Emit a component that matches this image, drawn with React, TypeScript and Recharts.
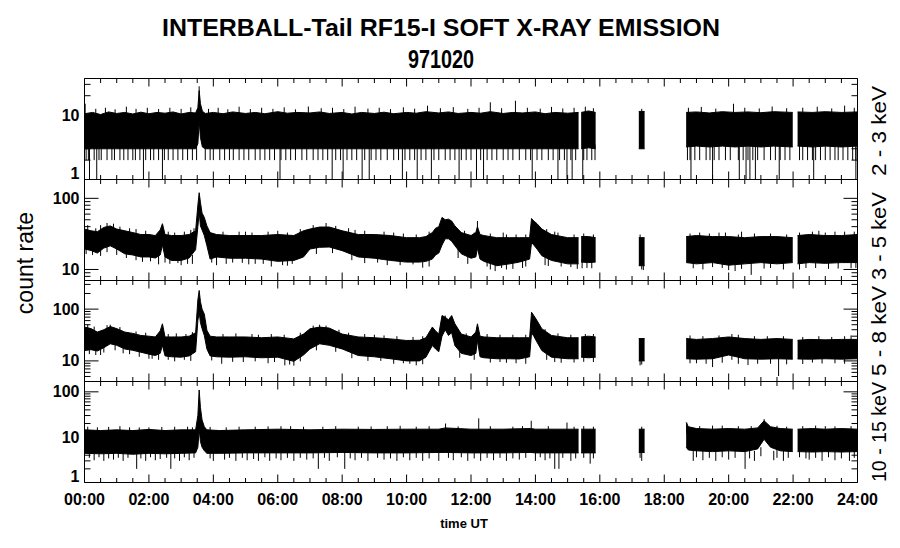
import React from 'react';
import { ComposedChart, Area, Line, XAxis, YAxis } from 'recharts';

const FONT = '"Liberation Sans", Arial, Helvetica, sans-serif';

// ---------- text ----------
const TITLE = 'INTERBALL-Tail RF15-I SOFT X-RAY EMISSION';
const DATE_LABEL = '971020';
const Y_TITLE = 'count rate';
const X_TITLE = 'time UT';
const CHANNELS = ['2 - 3 keV', '3 - 5 keV', '5 - 8 keV', '10 - 15 keV'];

// ---------- x axis ----------
const X_MAJOR_HOURS = [0, 2, 4, 6, 8, 10, 12, 14, 16, 18, 20, 22, 24];
const X_MAJOR_LABELS = ['00:00', '02:00', '04:00', '06:00', '08:00', '10:00', '12:00', '14:00', '16:00', '18:00', '20:00', '22:00', '24:00'];
const X_MINOR_HOURS = [0.5, 1, 1.5, 2.5, 3, 3.5, 4.5, 5, 5.5, 6.5, 7, 7.5, 8.5, 9, 9.5, 10.5, 11, 11.5, 12.5, 13, 13.5, 14.5, 15, 15.5, 16.5, 17, 17.5, 18.5, 19, 19.5, 20.5, 21, 21.5, 22.5, 23, 23.5];

// ---------- y axes (log) ----------
const P1_DOMAIN = [1, 37];
const P2_DOMAIN = [7, 184];
const P3_DOMAIN = [4, 357];
const P4_DOMAIN = [1, 169];
const P1_TICKS = [1, 2, 3, 4, 5, 6, 7, 8, 9, 10, 20, 30];
const P2_TICKS = [8, 9, 10, 20, 30, 40, 50, 60, 70, 80, 90, 100];
const P3_TICKS = [5, 6, 7, 8, 9, 10, 20, 30, 40, 50, 60, 70, 80, 90, 100, 200, 300];
const P4_TICKS = [1, 2, 3, 4, 5, 6, 7, 8, 9, 10, 20, 30, 40, 50, 60, 70, 80, 90, 100];

type Band = [number, number | null, number | null];
type Spike = [number, number, number];

// ---------- envelopes [hour, low, high] ----------
const P1_BAND: Band[] = [
  [0, 3, 10.5], [0.25, 3, 11], [0.5, 3, 10.2], [0.75, 3, 11.2], [1.0, 3, 10.6], [1.25, 3, 11], [1.5, 3, 10.4],
  [1.75, 3, 11.1], [2.0, 3, 10.5], [2.25, 3, 11], [2.5, 3, 10.7], [2.75, 3, 11.2], [3.0, 3, 10.4], [3.25, 3, 11],
  [3.45, 3, 10.8], [3.52, 3.6, 13], [3.56, 8, 24], [3.6, 4.5, 15], [3.66, 3.2, 11.5], [3.75, 3, 10.6], [4.0, 3, 11],
  [4.3, 3, 10.5], [4.6, 3, 11.2], [5.0, 3, 10.6], [5.3, 3, 11], [5.6, 3, 10.5], [6.0, 3, 11.3], [6.3, 3, 10.7],
  [6.6, 3, 11], [7.0, 3, 10.8], [7.3, 3, 11.2], [7.6, 3, 10.6], [8.0, 3, 11], [8.3, 3, 10.4], [8.6, 3, 11],
  [9.0, 3, 10.6], [9.3, 3, 11.1], [9.6, 3, 10.5], [10.0, 3, 11], [10.3, 3, 10.7], [10.6, 3, 11.3], [11.0, 3, 10.8],
  [11.3, 3, 11.2], [11.6, 3, 10.6], [12.0, 3, 11], [12.3, 3, 10.7], [12.6, 3, 11.3], [13.0, 3, 10.6], [13.3, 3, 11],
  [13.6, 3, 10.8], [14.0, 3, 11.2], [14.3, 3, 10.5], [14.6, 3, 11], [15.0, 3, 10.7], [15.34, 3, 11],
  [15.38, null, null],
  [15.42, 3, 11], [15.65, 3.1, 11.6], [15.87, 3, 11],
  [16.5, null, null],
  [17.21, 3, 11.4], [17.39, 3, 11.4],
  [18.0, null, null],
  [18.68, 3.2, 11], [19.0, 3.3, 11.2], [19.4, 3.2, 10.8], [19.8, 3.3, 11.3], [20.2, 3.2, 11], [20.6, 3.3, 11.2],
  [21.0, 3.2, 10.9], [21.4, 3.3, 11.3], [21.99, 3.2, 11],
  [22.06, null, null],
  [22.14, 3.3, 11.2], [22.6, 3.2, 11], [23.0, 3.3, 11.3], [23.5, 3.2, 11], [24.0, 3.3, 11.2],
];

const P2_BAND: Band[] = [
  [0, 19.4, 37], [0.2, 18.5, 35], [0.4, 17, 34], [0.6, 20, 39], [0.8, 21.5, 41], [1.0, 19.4, 37], [1.25, 16.6, 35],
  [1.5, 16, 33], [1.75, 15, 31], [2.0, 15, 31], [2.2, 14.5, 30], [2.35, 16, 36], [2.42, 22, 44], [2.5, 15, 31],
  [2.7, 13.4, 30], [3.0, 13.4, 30], [3.25, 14.5, 31], [3.45, 19, 35], [3.52, 40, 80], [3.56, 64, 120], [3.6, 41, 88],
  [3.65, 36, 62], [3.72, 30, 54], [3.8, 21.6, 41], [3.9, 14, 33], [4.1, 15, 31], [4.5, 14.4, 30], [5.0, 14.4, 30],
  [5.5, 14, 30], [6.0, 13, 31], [6.5, 13.4, 30], [6.8, 15, 35], [7.0, 19.4, 37], [7.3, 20.5, 39.5], [7.6, 20.7, 39.5],
  [8.0, 18.4, 35], [8.5, 15, 31], [9.0, 14.4, 31], [9.5, 13.4, 30], [10.0, 12.7, 28], [10.4, 12.7, 28], [10.6, 13, 29],
  [10.8, 14, 33], [10.9, 16, 38], [11.0, 17, 40], [11.1, 22, 54], [11.2, 27, 50], [11.3, 27, 51], [11.4, 25, 48],
  [11.5, 21.6, 41], [11.7, 16.6, 33], [12.0, 14.4, 30], [12.15, 15, 33], [12.2, 20, 40], [12.28, 14, 31], [12.4, 13, 30],
  [12.8, 11.3, 28], [13.2, 12, 28], [13.5, 12.7, 28], [13.82, 14, 28], [13.88, 24, 52], [13.95, 22, 48], [14.05, 19.4, 44],
  [14.2, 15.6, 37], [14.5, 13.4, 31], [15.0, 12, 28], [15.34, 12, 28],
  [15.38, null, null],
  [15.42, 12.7, 29], [15.65, 12.5, 29], [15.87, 12.7, 28],
  [16.5, null, null],
  [17.21, 11.3, 28], [17.39, 11.3, 28],
  [18.0, null, null],
  [18.68, 12.5, 29], [19.0, 12, 30], [19.5, 12.5, 29], [20.0, 11.5, 29], [20.5, 12, 28], [21.0, 12.5, 29],
  [21.5, 12, 29], [21.99, 12.5, 28],
  [22.06, null, null],
  [22.14, 12, 30], [22.5, 12.5, 31], [23.0, 12.2, 30], [23.5, 12.5, 30], [24.0, 12.5, 31],
];

const P3_BAND: Band[] = [
  [0, 15.8, 45], [0.2, 16.5, 42], [0.4, 15.5, 36], [0.6, 18, 40], [0.8, 21.4, 46], [1.0, 20, 42], [1.25, 17, 36],
  [1.5, 16, 34], [1.75, 14.7, 31], [2.0, 13.5, 30], [2.2, 12.7, 29], [2.35, 14, 38], [2.42, 20, 52], [2.5, 12.5, 29],
  [2.7, 12, 29], [3.0, 11.8, 29], [3.25, 12.5, 30], [3.45, 15, 35], [3.52, 60, 150], [3.56, 87, 229], [3.6, 55, 140],
  [3.65, 42, 100], [3.72, 31, 80], [3.8, 17, 39], [3.9, 12.5, 30], [4.1, 12, 29], [4.5, 11.8, 29], [5.0, 12, 29],
  [5.5, 11.5, 28], [6.0, 11.8, 29], [6.5, 9.8, 26.6], [6.8, 13, 33], [7.0, 17, 41.6], [7.3, 21.4, 45], [7.6, 20, 43],
  [8.0, 17, 33], [8.5, 12.7, 29], [9.0, 12, 28], [9.5, 11, 26.6], [10.0, 10, 24.8], [10.4, 10, 25], [10.6, 11.8, 28],
  [10.8, 19.8, 45], [10.9, 17, 38], [11.0, 15, 33], [11.1, 30, 75], [11.2, 40, 70], [11.3, 31, 62], [11.4, 35, 75],
  [11.5, 19.8, 52], [11.7, 14, 33], [12.0, 12.7, 29], [12.15, 14, 36], [12.2, 25, 52], [12.28, 12, 30], [12.4, 11.5, 29],
  [12.8, 11, 28], [13.2, 11, 28], [13.5, 10.9, 28], [13.82, 12, 28], [13.88, 35, 87], [13.95, 30, 75], [14.05, 23, 60],
  [14.2, 15.8, 41.6], [14.5, 11.8, 31], [15.0, 11, 28], [15.34, 11, 28],
  [15.38, null, null],
  [15.42, 11.8, 29], [15.65, 11.5, 30], [15.87, 11.8, 29],
  [16.5, null, null],
  [17.21, 10, 27], [17.39, 10, 27],
  [18.0, null, null],
  [18.68, 11, 27], [19.0, 10.8, 26], [19.5, 11, 27], [20.0, 13, 29], [20.5, 11, 27], [21.0, 10.8, 26],
  [21.5, 11, 27], [21.99, 10.8, 26],
  [22.06, null, null],
  [22.14, 10.9, 25], [22.5, 10.8, 26], [23.0, 11, 25.5], [23.5, 10.8, 26], [24.0, 11, 26],
];

const P4_BAND: Band[] = [
  [0, 4.4, 14.5], [0.5, 4.3, 14], [1.0, 4.4, 14.5], [1.5, 4.2, 14], [2.0, 4.4, 14.8], [2.5, 4.3, 14], [3.0, 4.4, 14.5],
  [3.45, 4.5, 14.5], [3.52, 6, 30], [3.56, 15, 110], [3.6, 8, 45], [3.65, 6, 24], [3.72, 5, 17], [3.8, 4.4, 14.5],
  [4.2, 4.4, 14], [5.0, 4.5, 14.5], [6.0, 4.5, 15], [7.0, 4.5, 14.5], [8.0, 4.6, 15], [9.0, 4.5, 14.8], [10.0, 4.5, 15],
  [11.0, 4.6, 15], [11.2, 4.6, 16], [12.0, 4.5, 15], [13.0, 4.5, 15], [13.85, 4.6, 15.5], [14.0, 4.5, 15],
  [15.0, 4.5, 15], [15.34, 4.5, 15],
  [15.38, null, null],
  [15.42, 4.5, 15], [15.87, 4.5, 15],
  [16.5, null, null],
  [17.21, 4.6, 15], [17.39, 4.6, 15],
  [18.0, null, null],
  [18.68, 6, 21], [18.75, 5.2, 17], [19.0, 5, 15.5], [19.5, 4.8, 15], [20.0, 5, 15.5], [20.5, 4.8, 15], [20.9, 5.5, 16],
  [21.1, 9, 23], [21.3, 6, 17], [21.6, 5, 15.5], [21.99, 4.8, 15],
  [22.06, null, null],
  [22.14, 4.8, 15], [22.6, 4.7, 15.5], [23.0, 4.8, 15], [23.5, 4.7, 15.5], [24.0, 4.8, 15],
];

// ---------- individual excursions [hour, from, to] ----------
const P1_SPIKES: Spike[] = [
  // dips to 2
  [0.05, 3.5, 2], [0.12, 3.5, 2], [0.3, 3.5, 2], [0.45, 3.5, 2], [0.52, 3.5, 2], [0.7, 3.5, 2], [0.85, 3.5, 2], [0.93, 3.5, 2],
  [1.1, 3.5, 2], [1.22, 3.5, 2], [1.35, 3.5, 2], [1.5, 3.5, 2], [1.58, 3.5, 2], [1.72, 3.5, 2], [1.9, 3.5, 2], [2.05, 3.5, 2],
  [2.15, 3.5, 2], [2.3, 3.5, 2], [2.48, 3.5, 2], [2.6, 3.5, 2], [2.75, 3.5, 2], [2.9, 3.5, 2], [3.05, 3.5, 2], [3.2, 3.5, 2],
  [3.35, 3.5, 2], [3.48, 3.5, 2], [3.75, 3.5, 2], [3.9, 3.5, 2], [4.0, 3.5, 2], [4.2, 3.5, 2], [4.35, 3.5, 2], [4.5, 3.5, 2],
  [4.62, 3.5, 2], [4.8, 3.5, 2], [4.95, 3.5, 2], [5.1, 3.5, 2], [5.3, 3.5, 2], [5.45, 3.5, 2], [5.6, 3.5, 2], [5.75, 3.5, 2],
  [5.9, 3.5, 2], [6.1, 3.5, 2], [6.25, 3.5, 2], [6.4, 3.5, 2], [6.55, 3.5, 2], [6.75, 3.5, 2], [6.9, 3.5, 2], [7.1, 3.5, 2],
  [7.25, 3.5, 2], [7.4, 3.5, 2], [7.55, 3.5, 2], [7.8, 3.5, 2], [7.95, 3.5, 2], [8.15, 3.5, 2], [8.3, 3.5, 2], [8.45, 3.5, 2],
  [8.7, 3.5, 2], [8.9, 3.5, 2], [9.05, 3.5, 2], [9.2, 3.5, 2], [9.4, 3.5, 2], [9.6, 3.5, 2], [9.75, 3.5, 2], [9.95, 3.5, 2],
  [10.1, 3.5, 2], [10.25, 3.5, 2], [10.45, 3.5, 2], [10.6, 3.5, 2], [10.85, 3.5, 2], [11.0, 3.5, 2], [11.2, 3.5, 2],
  [11.35, 3.5, 2], [11.5, 3.5, 2], [11.7, 3.5, 2], [11.85, 3.5, 2], [12.0, 3.5, 2], [12.3, 3.5, 2], [12.5, 3.5, 2],
  [12.65, 3.5, 2], [12.8, 3.5, 2], [13.0, 3.5, 2], [13.15, 3.5, 2], [13.3, 3.5, 2], [13.5, 3.5, 2], [13.7, 3.5, 2],
  [13.85, 3.5, 2], [14.05, 3.5, 2], [14.2, 3.5, 2], [14.4, 3.5, 2], [14.55, 3.5, 2], [14.75, 3.5, 2], [14.9, 3.5, 2],
  [15.1, 3.5, 2], [15.25, 3.5, 2], [15.5, 3.5, 2], [15.6, 3.5, 2], [15.75, 3.5, 2], [15.85, 3.5, 2],
  [18.72, 3.5, 2], [18.8, 3.5, 2], [18.95, 3.5, 2], [19.1, 3.5, 2], [19.3, 3.5, 2], [19.42, 3.5, 2], [19.55, 3.5, 2],
  [19.7, 3.5, 2], [19.9, 3.5, 2], [20.05, 3.5, 2], [20.3, 3.5, 2], [20.45, 3.5, 2], [20.6, 3.5, 2], [20.75, 3.5, 2],
  [20.9, 3.5, 2], [21.1, 3.5, 2], [21.3, 3.5, 2], [21.45, 3.5, 2], [21.6, 3.5, 2], [21.75, 3.5, 2], [21.9, 3.5, 2],
  [22.2, 3.5, 2], [22.3, 3.5, 2], [22.45, 3.5, 2], [22.6, 3.5, 2], [22.7, 3.5, 2], [22.85, 3.5, 2], [23.0, 3.5, 2],
  [23.15, 3.5, 2], [23.3, 3.5, 2], [23.4, 3.5, 2], [23.55, 3.5, 2], [23.7, 3.5, 2], [23.85, 3.5, 2], [23.95, 3.5, 2],
  // dips to 1
  [0.155, 3.5, 1], [0.38, 3.5, 1], [1.83, 3.5, 1], [2.42, 3.5, 1], [6.07, 3.5, 1], [7.69, 3.5, 1], [8.03, 3.5, 1],
  [8.62, 3.5, 1], [8.84, 3.5, 1], [9.87, 3.5, 1], [10.33, 3.5, 1], [10.77, 3.5, 1], [11.63, 3.5, 1], [12.17, 3.5, 1],
  [12.39, 3.5, 1], [13.9, 3.5, 1], [14.7, 3.5, 1], [14.98, 3.5, 1], [15.14, 3.5, 1], [15.47, 3.5, 1], [18.83, 3.5, 1],
  [19.5, 3.5, 1], [20.33, 3.5, 1], [20.54, 3.5, 1], [20.66, 3.5, 1], [20.83, 3.5, 1], [21.57, 3.5, 1], [22.64, 3.5, 1],
  [23.95, 3.5, 1],
  // upward
  [0.02, 9, 15], [0.35, 9, 12.5], [0.65, 9, 13], [0.95, 9, 12.3], [1.3, 9, 13.5], [1.6, 9, 12.5], [1.95, 9, 13],
  [2.3, 9, 12.4], [2.65, 9, 13], [3.0, 9, 12.5], [3.3, 9, 13.2], [3.56, 12, 28], [3.85, 9, 12.5], [4.15, 9, 13],
  [4.45, 9, 12.3], [4.8, 9, 13.5], [5.15, 9, 12.4], [5.5, 9, 13], [5.85, 9, 12.5], [6.2, 9, 13.2], [6.55, 9, 12.3],
  [6.95, 9, 13.6], [7.35, 9, 12.8], [7.7, 9, 13], [8.05, 9, 12.4], [8.4, 9, 13.5], [8.8, 9, 12.6], [9.15, 9, 13],
  [9.5, 9, 12.4], [9.9, 9, 13.2], [10.25, 9, 12.6], [10.65, 9, 14], [11.05, 9, 12.8], [11.45, 9, 13.3], [11.9, 9, 12.5],
  [12.25, 9, 13], [12.6, 9, 15.8], [12.95, 9, 12.8], [13.38, 9, 16.7], [13.75, 9, 13], [14.15, 9, 12.6], [14.5, 9, 13.4],
  [14.85, 9, 12.7], [15.2, 9, 13], [15.55, 9, 13.5], [15.8, 9, 12.8], [17.3, 9, 12.5], [18.75, 9, 13], [19.15, 9, 13.4],
  [19.6, 9, 12.6], [20.15, 9, 15], [20.5, 9, 13], [20.95, 9, 12.7], [21.35, 9, 13.6], [21.8, 9, 12.8], [22.3, 9, 13],
  [22.75, 9, 13.5], [23.2, 9, 12.7], [23.6, 9, 14], [23.9, 9, 13],
];

const P2_SPIKES: Spike[] = [
  [0.25, 20, 16], [0.5, 19, 15.5], [1.3, 18, 14.5], [2.05, 16, 13], [2.3, 16, 11.8], [2.65, 15, 12], [2.9, 15, 12.3],
  [3.2, 15, 12], [4.1, 16, 11.5], [4.6, 15, 12.5], [5.3, 15, 12], [5.8, 15, 11], [6.15, 14, 11.5], [6.45, 14, 12],
  [9.1, 15, 12.5], [9.8, 14, 11.5], [10.2, 14, 11.8], [12.5, 14, 11], [12.75, 13, 9.5], [12.95, 13, 10.5],
  [13.3, 13, 10.2], [13.7, 14, 11], [14.8, 13, 11], [15.1, 13, 10.8], [15.6, 13, 10.5], [17.3, 12, 10],
  [19.2, 13, 10], [19.8, 13, 10.5], [20.2, 13, 9.5], [20.7, 13, 8.4], [21.1, 13, 10.3], [21.7, 13, 10],
  [22.4, 13, 10.5], [23.1, 13, 10.2], [23.8, 13, 10.4],
  [0.5, 30, 42], [0.9, 35, 44], [1.1, 30, 40], [3.3, 28, 36], [5.0, 26, 34], [6.0, 26, 35], [7.5, 35, 45],
  [8.2, 30, 38], [9.3, 26, 34], [12.2, 35, 48], [13.0, 25, 33], [14.6, 26, 34], [19.7, 25, 33], [20.4, 25, 34],
  [22.8, 25, 35], [23.6, 25, 34],
];
const P2_EDGE: Spike[] = [
  [0.1, 34, 42], [0.35, 31, 38], [0.7, 37, 45], [1.4, 31, 38], [1.6, 30, 37], [1.9, 28, 35], [2.6, 27, 34], [2.8, 27, 33],
  [3.1, 27, 34], [3.4, 30, 38], [4.3, 27, 34], [4.8, 27, 34], [5.2, 27, 33], [5.7, 27, 34], [6.3, 27, 33], [6.7, 30, 37],
  [7.1, 34, 42], [7.8, 34, 41], [8.4, 29, 36], [8.7, 28, 35], [9.6, 27, 33], [9.9, 25, 32], [10.3, 25, 31], [10.7, 27, 34],
  [11.8, 28, 35], [12.1, 27, 33], [12.6, 26, 32], [13.1, 25, 31], [13.4, 25, 31], [13.7, 25, 31], [14.35, 30, 37],
  [14.7, 27, 33], [15.2, 25, 31], [15.5, 26, 32], [15.8, 25, 31], [17.25, 25, 31], [18.8, 26, 32], [19.1, 27, 33],
  [19.4, 26, 32], [19.9, 26, 33], [20.3, 25, 31], [20.8, 26, 32], [21.3, 26, 32], [21.8, 25, 31], [22.2, 27, 33],
  [22.6, 28, 34], [23.0, 27, 33], [23.3, 27, 34], [23.9, 28, 34],
  [0.05, 21, 16.5], [0.7, 23, 17.5], [1.0, 21, 16], [1.6, 18, 13.5], [1.8, 17, 12.8], [2.5, 17, 12.5], [3.0, 15, 11.5],
  [3.35, 16, 12], [3.95, 16, 12.5], [4.4, 16, 12], [4.9, 16, 12.4], [5.1, 16, 11.8], [5.55, 16, 12], [6.3, 15, 11.3],
  [7.2, 22, 16.5], [7.7, 22, 17], [8.3, 18, 13.5], [8.7, 16, 12.3], [9.4, 15, 11.5], [10.5, 14, 10.6], [10.7, 15, 11],
  [11.6, 20, 14.5], [11.9, 16, 12], [12.6, 13, 10], [13.1, 14, 10], [13.6, 14, 10.5], [14.3, 15, 11.5], [14.4, 15, 11.2],
  [15.3, 14, 10.2], [15.45, 14, 10.4], [15.75, 14, 10.4], [17.35, 13, 9.8], [18.9, 14, 10.4], [19.5, 14, 10.8],
  [20.0, 13, 9.8], [20.4, 14, 10.2], [21.3, 14, 10.5], [22.2, 14, 10], [22.7, 14, 10.5], [23.4, 14, 10.3], [23.95, 14, 10.5],
];

const P3_SPIKES: Spike[] = [
  [0.15, 18, 13.5], [0.5, 17, 13], [1.4, 17, 13.5], [2.1, 14, 11], [2.6, 14, 10.5], [3.1, 14, 10.5], [4.26, 13, 8.8],
  [4.93, 13, 9.5], [5.7, 13, 9], [6.22, 12, 8.2], [6.37, 12, 8.5], [6.5, 12, 8.1], [9.2, 13, 10], [9.9, 12, 9],
  [10.1, 12, 8.8], [12.9, 12, 9.5], [13.1, 12, 9.2], [14.6, 12, 9.5], [15.2, 12, 9.3], [17.3, 11, 8.5],
  [19.0, 12, 9], [19.5, 12, 7.6], [20.3, 12, 8.8], [20.6, 12, 8.3], [21.55, 12, 5.1], [22.6, 12, 9.3], [23.3, 12, 9],
  [0.8, 40, 50], [7.3, 40, 50], [7.5, 40, 48], [11.2, 60, 75], [5.2, 26, 33], [9.0, 25, 32], [20.1, 26, 33],
  [23.8, 24, 31],
];
const P3_EDGE: Spike[] = [
  [0.1, 40, 50], [0.3, 36, 46], [0.7, 38, 49], [1.1, 36, 45], [1.6, 30, 37], [1.9, 28, 35], [2.6, 26, 33], [2.85, 26, 34],
  [3.15, 26, 33], [3.35, 28, 36], [4.3, 26, 33], [4.7, 26, 34], [5.4, 25, 32], [5.8, 26, 33], [6.2, 25, 32], [6.7, 28, 35],
  [7.1, 38, 48], [7.9, 32, 40], [8.2, 28, 35], [8.7, 26, 33], [9.3, 24, 31], [9.7, 23, 30], [10.2, 22, 29], [10.5, 23, 30],
  [11.6, 31, 40], [11.85, 27, 34], [12.5, 26, 33], [12.9, 25, 32], [13.3, 25, 32], [13.7, 25, 32], [14.3, 33, 41],
  [14.7, 27, 34], [15.1, 25, 32], [15.55, 26, 33], [15.8, 26, 33], [18.8, 24, 31], [19.2, 23, 30], [19.7, 24, 31],
  [20.3, 25, 32], [20.8, 24, 30], [21.2, 23, 30], [21.7, 24, 30], [22.3, 22, 29], [22.8, 23, 30], [23.2, 23, 29],
  [23.6, 23, 30],
  [0.35, 17, 13], [0.6, 20, 14.5], [0.95, 22, 16], [1.2, 19, 14], [1.7, 16.5, 12], [2.0, 15, 11], [2.3, 14, 10.5],
  [2.8, 13.5, 9.8], [3.3, 14, 10], [3.95, 14, 10.2], [4.6, 13.5, 9.6], [5.3, 13.5, 9.8], [5.9, 13.5, 9.5], [6.7, 13.5, 9.8],
  [7.2, 22, 16], [7.8, 20, 15], [8.3, 15.5, 11.3], [8.8, 14, 10], [9.6, 12.5, 8.8], [10.3, 11.5, 8.2], [10.5, 12, 8.6],
  [11.65, 16, 11.5], [12.1, 14.5, 10.5], [12.6, 13, 9.3], [13.4, 12.5, 9], [13.7, 12.5, 8.8], [14.35, 14.5, 10.5],
  [14.8, 13, 9.2], [15.5, 13.5, 9.6], [15.8, 13.5, 9.5], [17.25, 11.5, 8.2], [18.8, 12.5, 9], [19.3, 12.5, 8.8],
  [19.8, 13, 9.2], [20.1, 14.5, 10.5], [20.9, 12.5, 8.8], [21.3, 12.5, 8.8], [21.8, 12.5, 8.6], [22.3, 12.5, 8.7],
  [22.9, 12.5, 8.9], [23.6, 12.5, 8.8],
];

const P4_SPIKES: Spike[] = [
  [0.3, 5, 3.1], [0.6, 5, 3], [0.9, 5, 3.2], [1.2, 5, 3], [1.62, 5, 2], [1.9, 5, 3], [2.2, 5, 3.1], [2.68, 5, 2],
  [2.95, 5, 3], [3.25, 5, 3.1], [4.0, 5, 3], [4.35, 5, 3.2], [4.7, 5, 3], [5.05, 5, 3.1], [5.4, 5, 3], [5.75, 5, 3],
  [6.1, 5, 3.1], [6.5, 5, 3], [6.9, 5, 3.2], [7.26, 5, 2], [7.6, 5, 3], [8.08, 5, 2], [8.4, 5, 3.1], [8.8, 5, 3],
  [9.3, 5, 3.2], [9.7, 5, 3], [10.1, 5, 3.1], [10.5, 5, 3], [11.0, 5, 3], [11.45, 5, 3.1], [11.9, 5, 3], [12.3, 5, 3],
  [12.7, 5, 3.1], [13.1, 5, 3], [13.5, 5, 3.2], [14.0, 5, 3], [14.3, 5, 3.1], [14.6, 5, 2], [14.73, 5, 2], [15.1, 5, 3],
  [15.7, 5, 2.6], [17.3, 5, 3], [18.9, 5, 3], [19.2, 5, 3.1], [19.6, 5, 3], [20.0, 5, 3.2], [20.51, 5, 2], [20.8, 5, 3],
  [21.4, 5, 3.1], [21.7, 5, 3], [22.5, 5, 3.2], [22.9, 5, 3], [23.3, 5, 3.1], [23.75, 5, 3],
  [0.1, 12, 17], [1.1, 12, 17.5], [2.0, 12, 16.5], [3.2, 12, 17], [4.8, 12, 17], [6.4, 12, 17.5], [8.5, 12, 17],
  [11.21, 12, 20], [12.24, 12, 26], [13.87, 12, 23], [14.98, 12, 21], [18.7, 12, 21], [19.5, 12, 18], [21.1, 15, 25],
  [23.0, 12, 17.5],
];
const P4_EDGE: Spike[] = [
  [0.4, 12, 16.5], [0.75, 12, 16.8], [1.4, 12, 16.5], [1.7, 12, 16.4], [2.4, 12, 16.8], [2.8, 12, 17], [3.35, 12, 16.5],
  [3.9, 12, 16.8], [4.4, 12, 16.5], [5.3, 12, 17], [5.7, 12, 17.3], [6.1, 12, 17.5], [6.8, 12, 17], [7.4, 12, 17],
  [7.8, 12, 17.5], [8.9, 12, 17.2], [9.4, 12, 17.5], [9.8, 12, 17.8], [10.3, 12, 17], [10.7, 12, 17.5], [11.6, 12, 17.3],
  [12.6, 12, 17.5], [13.3, 12, 17], [13.6, 12, 17.5], [14.4, 12, 17.5], [15.2, 12, 17], [15.5, 12, 17.5], [15.8, 12, 17],
  [17.3, 12, 17], [19.1, 12, 17.5], [19.8, 12, 18], [20.3, 12, 17.5], [20.7, 12, 17.5], [21.5, 12, 17.8], [21.8, 12, 17],
  [22.3, 12, 17.5], [22.7, 12, 18], [23.3, 12, 17.3], [23.8, 12, 17.5],
  [0.15, 5, 3.5], [0.45, 5, 3.6], [0.75, 5, 3.4], [1.05, 5, 3.5], [1.35, 5, 3.5], [1.75, 5, 3.4], [2.05, 5, 3.6],
  [2.35, 5, 3.3], [2.55, 5, 3.5], [2.8, 5, 3.4], [3.1, 5, 3.6], [3.4, 5, 3.5], [3.9, 5, 3.4], [4.5, 5, 3.5], [4.9, 5, 3.5],
  [5.25, 5, 3.3], [5.6, 5, 3.6], [5.95, 5, 3.4], [6.3, 5, 3.5], [6.7, 5, 3.5], [7.1, 5, 3.4], [7.45, 5, 3.5], [7.85, 5, 3.6],
  [8.25, 5, 3.4], [8.6, 5, 3.5], [9.1, 5, 3.5], [9.5, 5, 3.4], [9.9, 5, 3.6], [10.3, 5, 3.5], [10.7, 5, 3.4], [11.3, 5, 3.5],
  [11.7, 5, 3.6], [12.1, 5, 3.4], [12.5, 5, 3.5], [12.9, 5, 3.5], [13.3, 5, 3.4], [13.7, 5, 3.5], [14.15, 5, 3.6],
  [14.45, 5, 3.4], [14.85, 5, 3.5], [15.25, 5, 3.4], [15.5, 5, 3.5], [15.8, 5, 3.4], [17.25, 5, 3.5], [19.0, 5.5, 3.6],
  [19.4, 5.5, 3.5], [19.8, 5.5, 3.6], [20.2, 5.5, 3.5], [20.65, 5.5, 3.4], [21.0, 6, 3.8], [21.5, 5.5, 3.5], [21.85, 5.5, 3.5],
  [22.2, 5.5, 3.6], [22.4, 5.5, 3.4], [22.7, 5.5, 3.5], [23.1, 5.5, 3.6], [23.5, 5.5, 3.4], [23.9, 5.5, 3.5],
];

// ---------- layout ----------
const PANEL_TOP = [79, 180, 281, 382];
const PANEL_H = 101;

function bandRows(b: Band[]) {
  return b.map(([t, lo, hi]) => ({ t, band: lo == null || hi == null ? null : [lo, hi] }));
}
function spikeRows(s: Spike[]) {
  const rows: any[] = [];
  s.forEach(([t, a, b]) => {
    rows.push({ t, v: a }, { t, v: b }, { t, v: null });
  });
  return rows;
}

const X_TICKS = [...X_MAJOR_HOURS, ...X_MINOR_HOURS].sort((a, b) => a - b);

function XTick(props: any) {
  const { x, y, payload, dir, showLabel } = props;
  const v = payload.value;
  const idx = X_MAJOR_HOURS.indexOf(v);
  const major = idx >= 0;
  const len = major ? 8 : 4.5;
  return (
    <g>
      <line x1={x} x2={x} y1={y} y2={y + dir * len} stroke="#000" strokeWidth={1} />
      {showLabel && major ? (
        <text x={x} y={y + 17} textAnchor="middle" dominantBaseline="central" fontFamily={FONT} fontWeight="bold" fontSize={16} fill="#000">
          {X_MAJOR_LABELS[idx]}
        </text>
      ) : null}
    </g>
  );
}

function YTick(props: any) {
  const { x, y, payload, side, min } = props;
  const v = payload.value;
  const lg = Math.log10(v);
  const major = Math.abs(lg - Math.round(lg)) < 1e-6;
  const len = major ? 14 : 6;
  const d = side === 'left' ? 1 : -1;
  return (
    <g>
      <line x1={x} x2={x + d * len} y1={y} y2={y} stroke="#000" strokeWidth={1} />
      {side === 'left' && major ? (
        <text x={x - 5} y={y + (v === min ? -6.5 : 0)} textAnchor="end" dominantBaseline="central" fontFamily={FONT} fontWeight="bold" fontSize={16} fill="#000">
          {String(v)}
        </text>
      ) : null}
    </g>
  );
}

function Panel({ top, band, spikes, domain, ticks, last }: { top: number; band: Band[]; spikes: Spike[]; domain: number[]; ticks: number[]; last: boolean }) {
  const height = last ? 150 : 116;
  const mt = 5.5;
  const mb = height - (mt + 1) - PANEL_H - 1;
  const sRows = spikeRows(spikes);
  return (
    <div style={{ position: 'absolute', left: 0, top: top - 7, width: 900, height }}>
      <ComposedChart width={900} height={height} data={bandRows(band)} margin={{ top: mt, right: 0.5, bottom: mb, left: 0.5 }}>
        <XAxis
          xAxisId="b" dataKey="t" type="number" domain={[0, 24]} ticks={X_TICKS} interval={0} allowDataOverflow
          orientation="bottom" height={1} tickSize={0} tickMargin={0} tickLine={false} axisLine={{ stroke: '#000' }}
          tick={(p: any) => <XTick {...p} dir={-1} showLabel={last} />}
        />
        <XAxis
          xAxisId="t" dataKey="t" type="number" domain={[0, 24]} ticks={X_TICKS} interval={0} allowDataOverflow
          orientation="top" height={1} tickSize={0} tickMargin={0} tickLine={false} axisLine={{ stroke: '#000' }}
          tick={(p: any) => <XTick {...p} dir={1} showLabel={false} />}
        />
        <YAxis
          yAxisId="l" type="number" scale="log" domain={domain} ticks={ticks} interval={0} allowDataOverflow
          orientation="left" width={84} tickSize={0} tickMargin={0} tickLine={false} axisLine={{ stroke: '#000' }}
          tick={(p: any) => <YTick {...p} side="left" min={domain[0]} />}
        />
        <YAxis
          yAxisId="r" type="number" scale="log" domain={domain} ticks={ticks} interval={0} allowDataOverflow
          orientation="right" width={42} tickSize={0} tickMargin={0} tickLine={false} axisLine={{ stroke: '#000' }}
          tick={(p: any) => <YTick {...p} side="right" min={domain[0]} />}
        />
        <Area
          xAxisId="b" yAxisId="l" dataKey="band" type="linear" stroke="#000" strokeWidth={1} fill="#000" fillOpacity={1}
          dot={false} activeDot={false} isAnimationActive={false} connectNulls={false}
        />
        <Line
          xAxisId="b" yAxisId="l" data={sRows} dataKey="v" type="linear" stroke="#000" strokeWidth={1}
          dot={false} activeDot={false} isAnimationActive={false} connectNulls={false}
        />
        <Line
          xAxisId="t" yAxisId="r" data={sRows} dataKey="v" type="linear" stroke="none" strokeWidth={0}
          dot={false} activeDot={false} isAnimationActive={false} connectNulls={false}
        />
      </ComposedChart>
    </div>
  );
}

export default function App() {
  const bands = [P1_BAND, P2_BAND, P3_BAND, P4_BAND];
  const spikes = [P1_SPIKES, [...P2_SPIKES, ...P2_EDGE], [...P3_SPIKES, ...P3_EDGE], [...P4_SPIKES, ...P4_EDGE]];
  const domains = [P1_DOMAIN, P2_DOMAIN, P3_DOMAIN, P4_DOMAIN];
  const ticks = [P1_TICKS, P2_TICKS, P3_TICKS, P4_TICKS];
  const labelY = [131, 236, 331, 432];
  const labelLen = [90, 88, 90, 100];
  return (
    <div style={{ position: 'absolute', left: 0, top: 0, width: 900, height: 548, background: '#fff', overflow: 'hidden' }}>
      {PANEL_TOP.map((top, i) => (
        <Panel key={i} top={top} band={bands[i]} spikes={spikes[i]} domain={domains[i]} ticks={ticks[i]} last={i === 3} />
      ))}
      <svg width={900} height={548} style={{ position: 'absolute', left: 0, top: 0, pointerEvents: 'none' }}>
        <text x={441} y={36} textAnchor="middle" fontFamily={FONT} fontWeight="bold" fontSize={24} textLength={558} lengthAdjust="spacingAndGlyphs" fill="#000">
          {TITLE}
        </text>
        <text x={441} y={68} textAnchor="middle" fontFamily={FONT} fontWeight="bold" fontSize={25} textLength={66} lengthAdjust="spacingAndGlyphs" fill="#000">
          {DATE_LABEL}
        </text>
        <text transform="translate(25,263) rotate(-90)" textAnchor="middle" dominantBaseline="central" fontFamily={FONT} fontSize={23} fill="#000">
          {Y_TITLE}
        </text>
        {CHANNELS.map((c, i) => (
          <text key={c} transform={`translate(878,${labelY[i]}) rotate(-90)`} textAnchor="middle" dominantBaseline="central" fontFamily={FONT} fontSize={21} textLength={labelLen[i]} lengthAdjust="spacingAndGlyphs" fill="#000">
            {c}
          </text>
        ))}
        <text x={464} y={528} textAnchor="middle" fontFamily={FONT} fontWeight="bold" fontSize={13} fill="#000">
          {X_TITLE}
        </text>
      </svg>
    </div>
  );
}
